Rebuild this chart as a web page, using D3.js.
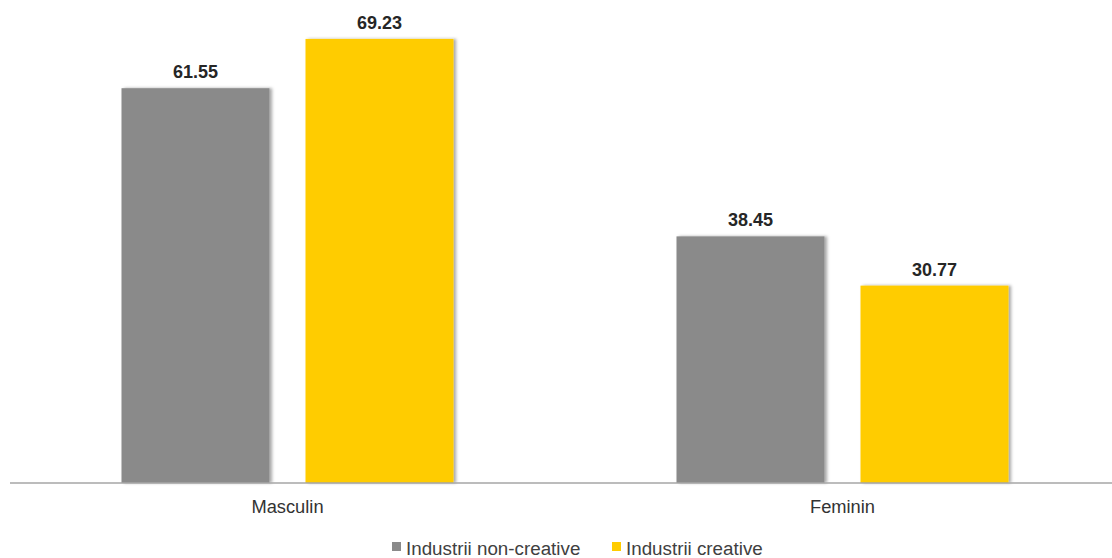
<!DOCTYPE html>
<html>
<head>
<meta charset="utf-8">
<script src="https://cdn.jsdelivr.net/npm/d3@7"></script>
<style>
  html, body { margin: 0; padding: 0; background: #fff; }
  svg { display: block; font-family: "Liberation Sans", Arial, sans-serif; }
</style>
</head>
<body>
<svg id="chart" width="1112" height="558"></svg>
<script>
// Gender split by industry type (%)
const categories = ["Masculin", "Feminin"];
const seriesNames = ["Industrii non-creative", "Industrii creative"];
const nonCreative = [61.55, 38.45];
const creative = [69.23, 30.77];
const seriesColors = ["#8a8a8a", "#ffcc00"];

const rows = categories.map((c, i) => ({ cat: c, values: [nonCreative[i], creative[i]] }));

const svg = d3.select("#chart");
const W = 1112, H = 558;
const baseY = 483;

// soft shadow on the right side of each bar
const defs = svg.append("defs");
const f = defs.append("filter").attr("id", "barShadow")
  .attr("x", "-5%").attr("y", "-5%").attr("width", "115%").attr("height", "110%");
f.append("feDropShadow").attr("dx", 2.5).attr("dy", 0).attr("stdDeviation", 1.5)
  .attr("flood-color", "#000").attr("flood-opacity", 0.35);

const x0 = d3.scaleBand().domain(categories).range([10, 1120]).paddingInner(0).paddingOuter(0);
const groupW = 332;
const x1 = d3.scaleBand().domain(d3.range(seriesNames.length)).range([0, groupW]).paddingInner(36 / 184).paddingOuter(0);
const y = d3.scaleLinear().domain([0, 70]).range([baseY, 34]);

const groups = svg.append("g").selectAll("g").data(rows).join("g")
  .attr("transform", d => `translate(${x0(d.cat) + (x0.bandwidth() - groupW) / 2},0)`);

groups.selectAll("rect").data(d => d.values.map((v, i) => ({ v, i }))).join("rect")
  .attr("x", d => x1(d.i))
  .attr("width", x1.bandwidth())
  .attr("y", d => y(d.v))
  .attr("height", d => baseY - y(d.v))
  .attr("fill", d => seriesColors[d.i])
  .attr("filter", "url(#barShadow)");

groups.selectAll("text.val").data(d => d.values.map((v, i) => ({ v, i }))).join("text")
  .attr("class", "val")
  .attr("x", d => x1(d.i) + x1.bandwidth() / 2)
  .attr("y", d => y(d.v) - 10)
  .attr("text-anchor", "middle")
  .attr("font-size", 18)
  .attr("font-weight", "bold")
  .attr("fill", "#262626")
  .text(d => d3.format(".2f")(d.v));

// category axis
const axis = svg.append("g").attr("transform", `translate(0,${baseY})`)
  .call(d3.axisBottom(x0).tickSize(0).tickPadding(17));
axis.select(".domain").attr("d", `M10,0H${W}`).attr("stroke", "#a6a6a6").attr("stroke-width", 1.5);
axis.selectAll(".tick text")
  .attr("font-size", 18.3)
  .attr("font-family", "Liberation Sans, Arial, sans-serif")
  .attr("fill", "#333");

// legend
const legendItems = [
  { name: seriesNames[0], color: seriesColors[0], sx: 392, tx: 406 },
  { name: seriesNames[1], color: seriesColors[1], sx: 612, tx: 626 }
];
const lg = svg.append("g");
lg.selectAll("rect").data(legendItems).join("rect")
  .attr("x", d => d.sx).attr("y", 542).attr("width", 9).attr("height", 9)
  .attr("fill", d => d.color);
lg.selectAll("text").data(legendItems).join("text")
  .attr("x", d => d.tx).attr("y", 555)
  .attr("font-size", 18.8).attr("fill", "#404040")
  .text(d => d.name);
</script>
</body>
</html>
